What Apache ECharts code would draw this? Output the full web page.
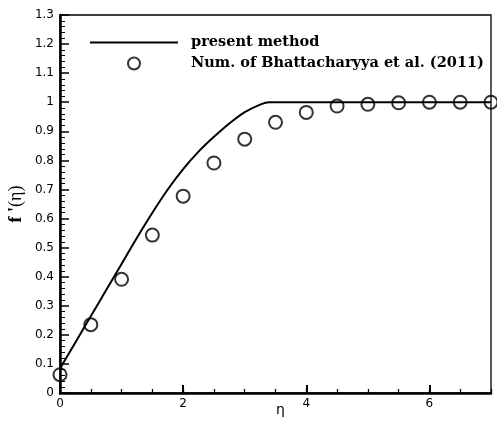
<!DOCTYPE html>
<html><head><meta charset="utf-8">
<script src="https://cdn.jsdelivr.net/npm/echarts@6/dist/echarts.min.js"></script>
<style>html,body{margin:0;padding:0;background:#fff}#c{width:497px;height:432px}</style>
</head><body><div id="c"></div>
<script>
// present method curve
const etaCurve = [0,0.25,0.5,0.75,1,1.25,1.5,1.75,2,2.25,2.5,2.75,3,3.25,3.4,3.5,4,5,6,7];
const fpCurve  = [0.084,0.174,0.264,0.354,0.444,0.534,0.62,0.70,0.77,0.83,0.881,0.927,0.966,0.992,1.0,1.0,1.0,1.0,1.0,1.0];
// Num. of Bhattacharyya et al. (2011)
const etaNum = [0,0.5,1,1.5,2,2.5,3,3.5,4,4.5,5,5.5,6,6.5,7];
const fpNum  = [0.063,0.235,0.391,0.543,0.677,0.791,0.873,0.931,0.965,0.987,0.993,0.998,1.0,1.0,1.0];
const seriesNames = ['present method','Num. of Bhattacharyya et al. (2011)'];

const chart = echarts.init(document.getElementById('c'));
const tickFont = {fontFamily:'DejaVu Sans', fontSize:12, color:'#000'};
chart.setOption({
  animation:false,
  backgroundColor:'#fff',
  grid:{left:60,right:6,top:15,bottom:39,show:true,borderColor:'#000',borderWidth:1.3,containLabel:false,outerBoundsMode:'none'},
  legend:{
    orient:'vertical', left:89, top:35, padding:0, itemGap:6,
    itemWidth:88, itemHeight:12,
    data:[{name:seriesNames[0], itemStyle:{opacity:0}}, {name:seriesNames[1]}],
    textStyle:{fontFamily:'DejaVu Serif', fontWeight:'bold', fontSize:14.5, color:'#000', lineHeight:12, padding:[0,0,0,8]}
  },
  xAxis:[{
    type:'value', min:0, max:7, interval:2, position:'bottom',
    name:'η', nameLocation:'middle', nameGap:10, nameMoveOverlap:false,
    nameTextStyle:{fontFamily:'DejaVu Sans', fontSize:14, color:'#000', padding:[0,0,0,10]},
    axisLine:{show:true,lineStyle:{color:'#000',width:2.5}},
    axisTick:{show:true,inside:true,length:8,lineStyle:{color:'#000',width:2}},
    axisLabel:{...tickFont, margin:5, showMaxLabel:false},
    splitLine:{show:false}
  },{
    type:'value', min:0, max:7, interval:0.5, position:'bottom', offset:0,
    axisLine:{show:false},
    axisTick:{show:true,inside:true,length:4,lineStyle:{color:'#000',width:1.3}},
    axisLabel:{show:false},
    splitLine:{show:false}
  }],
  yAxis:{
    type:'value', min:0, max:1.3, interval:0.1,
    name:"{b|f '}(η)", nameLocation:'middle', nameGap:35, nameRotate:90, nameMoveOverlap:false,
    nameTextStyle:{fontFamily:'Liberation Serif', fontSize:18, color:'#000',
      rich:{b:{fontFamily:'Liberation Serif', fontWeight:'bold', fontSize:18, color:'#000'}}},
    axisLine:{show:true,lineStyle:{color:'#000',width:2.5}},
    axisTick:{show:true,inside:true,length:9,lineStyle:{color:'#000',width:1.5}},
    minorTick:{show:true,splitNumber:5,length:5,lineStyle:{color:'#000',width:1}},
    axisLabel:{...tickFont, margin:6},
    splitLine:{show:false}
  },
  series:[{
    name:seriesNames[0], type:'line', xAxisIndex:0,
    data:etaCurve.map((x,i)=>[x,fpCurve[i]]),
    symbol:'none', smooth:0.3,
    lineStyle:{color:'#000',width:2}, itemStyle:{color:'#000'}
  },{
    name:seriesNames[1], type:'scatter', xAxisIndex:0,
    data:etaNum.map((x,i)=>[x,fpNum[i]]),
    symbol:'circle', symbolSize:13, clip:false,
    itemStyle:{color:'rgba(0,0,0,0)', borderColor:'#000', borderWidth:2}
  }]
});
</script></body></html>
